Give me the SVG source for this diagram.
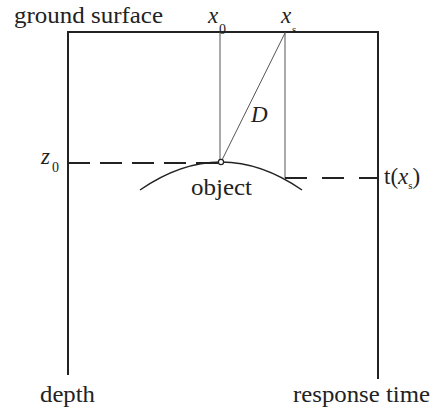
<svg xmlns="http://www.w3.org/2000/svg" width="435" height="410" viewBox="0 0 435 410">
<style>
  text { font-family: 'Liberation Serif', 'DejaVu Serif', serif; fill: #222; }
  .lbl { font-size: 23px; }
  .it { font-style: italic; }
  .sub { font-size: 14px; }
  .frame { stroke: #222; stroke-width: 2; fill: none; }
  .thin { stroke: #555; stroke-width: 1; fill: none; }
  .dash { stroke: #222; stroke-width: 2; fill: none; }
</style>
<rect width="435" height="410" fill="#fff"/>
<g id="frame">
  <path class="frame" d="M68,375 V32 H378 V379"/>
</g>
<g id="connectors">
  <line class="thin" x1="220" y1="32" x2="220" y2="162"/>
  <line class="thin" x1="285" y1="32" x2="285" y2="178"/>
  <line class="thin" x1="285" y1="33" x2="222" y2="160"/>
  <line class="dash" x1="68" y1="163" x2="218" y2="163" stroke-dasharray="22 10"/>
  <line class="dash" x1="285" y1="178" x2="377" y2="178" stroke-dasharray="22 15"/>
</g>
<g id="object">
  <path d="M140,190 Q221,134 302,190" stroke="#222" stroke-width="1.5" fill="none"/>
  <circle cx="221" cy="162" r="2.6" fill="#fff" stroke="#222" stroke-width="1.2"/>
  <text class="lbl" x="191" y="195" textLength="61" lengthAdjust="spacingAndGlyphs">object</text>
</g>
<g id="labels">
  <text class="lbl" x="14" y="23" textLength="149" lengthAdjust="spacingAndGlyphs">ground surface</text>
  <text class="lbl it" x="208" y="23">x</text>
  <text class="sub" x="219" y="34">0</text>
  <text class="lbl it" x="281" y="23">x</text>
  <text class="sub" x="292" y="33" style="font-size:11px">s</text>
  <text class="lbl it" x="251" y="122">D</text>
  <text class="lbl it" x="41" y="164">z</text>
  <text class="sub" x="52" y="172">0</text>
  <text class="lbl" x="384" y="184">t(<tspan class="it">x</tspan><tspan class="sub" dy="5" style="font-size:11px">s</tspan><tspan dy="-5">)</tspan></text>
  <text class="lbl" x="40" y="402" textLength="55" lengthAdjust="spacingAndGlyphs">depth</text>
  <text class="lbl" x="293" y="402" textLength="137" lengthAdjust="spacingAndGlyphs">response time</text>
</g>
</svg>
